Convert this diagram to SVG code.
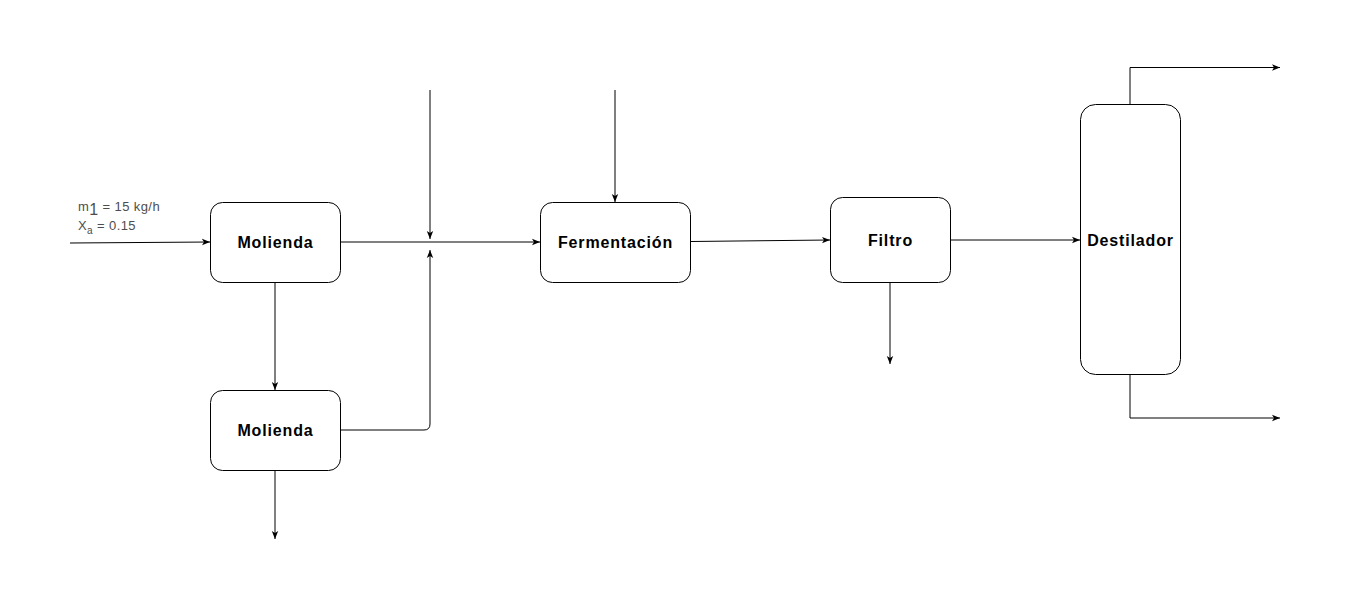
<svg xmlns="http://www.w3.org/2000/svg" width="1349" height="609" viewBox="0 0 1349 609">
<defs>
<marker id="arr" viewBox="0 0 10 10" refX="10" refY="5" markerWidth="8" markerHeight="8" markerUnits="userSpaceOnUse" orient="auto">
<path d="M0,1 L10,5 L0,9 L2.5,5 Z" fill="#000"/>
</marker>
<style>
.box{fill:#fff;stroke:#000;stroke-width:1}
.lbl{font-family:"Liberation Sans",Arial,sans-serif;font-weight:bold;font-size:16px;letter-spacing:0.85px;fill:#000;text-anchor:middle}
.ln{fill:none;stroke:#000;stroke-width:1;marker-end:url(#arr)}
.note{font-family:"Liberation Sans",Arial,sans-serif;font-size:13px;letter-spacing:0.4px;fill:#4d4d4d}
</style>
</defs>
<rect width="1349" height="609" fill="#fff"/>
<g id="connectors">
<path class="ln" d="M70,243 L210,242"/>
<path class="ln" d="M341,242 L540,242"/>
<path class="ln" d="M430,90 L430,239"/>
<path class="ln" d="M341,430 L424,430 Q430,430 430,424 L430,250"/>
<path class="ln" d="M615,90 L615,202"/>
<path class="ln" d="M275,282 L275,390"/>
<path class="ln" d="M275,470 L275,539"/>
<path class="ln" d="M691,241.5 L830,240"/>
<path class="ln" d="M890,282 L890,364"/>
<path class="ln" d="M950,240 L1080,240"/>
<path class="ln" d="M1130,104 L1130,67.5 L1280,67.5"/>
<path class="ln" d="M1130,375 L1130,418 L1280,418"/>
</g>
<g id="label-input">
<text class="note" x="78" y="211">m<tspan font-size="16" dy="4">1</tspan><tspan dy="-4"> = 15 kg/h</tspan></text>
<text class="note" x="78" y="230">X<tspan font-size="10" dy="4">a</tspan><tspan dy="-4"> = 0.15</tspan></text>
</g>
<g id="molienda1">
<rect class="box" x="210.5" y="202.5" width="130" height="80" rx="12"/>
<text class="lbl" x="275.5" y="248">Molienda</text>
</g>
<g id="molienda2">
<rect class="box" x="210.5" y="390.5" width="130" height="80" rx="12"/>
<text class="lbl" x="275.5" y="436">Molienda</text>
</g>
<g id="fermentacion">
<rect class="box" x="540.5" y="202.5" width="150" height="80" rx="12"/>
<text class="lbl" x="615.5" y="248">Fermentación</text>
</g>
<g id="filtro">
<rect class="box" x="830.5" y="197.5" width="120" height="85" rx="12"/>
<text class="lbl" x="890.5" y="246">Filtro</text>
</g>
<g id="destilador">
<rect class="box" x="1080.5" y="104.5" width="100" height="270" rx="15"/>
<text class="lbl" x="1130.5" y="246">Destilador</text>
</g>
</svg>
